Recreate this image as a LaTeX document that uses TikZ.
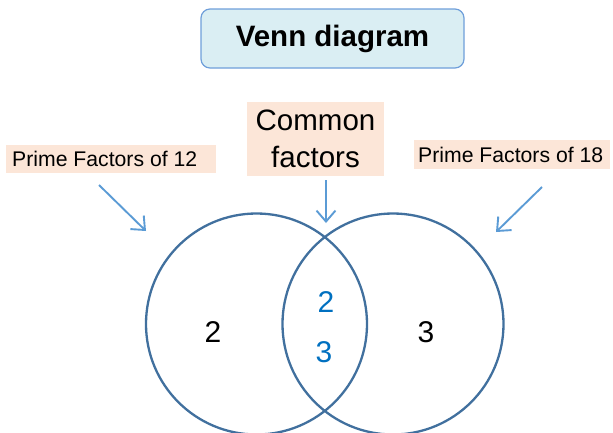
\documentclass[tikz,border=0pt]{standalone}
\usepackage{fontspec}
\setmainfont{Liberation Sans}
\usetikzlibrary{arrows.meta}
\definecolor{titlefill}{HTML}{DAEEF3}
\definecolor{titleline}{HTML}{6F9FDA}
\definecolor{tagfill}{HTML}{FCE6D8}
\definecolor{ringcol}{HTML}{41709E}
\definecolor{pointer}{HTML}{5B9BD5}
\definecolor{shared}{HTML}{0070C0}
\tikzset{
  titlebox/.style={draw=titleline, line width=1.2pt, fill=titlefill, rounded corners=9pt,
    minimum width=263pt, minimum height=59pt, inner sep=0pt,
    font=\fontsize{29.5}{34}\selectfont\bfseries},
  tagbox/.style={fill=tagfill, inner sep=0pt},
  tagtext/.style={anchor=west, inner sep=0pt, font=\fontsize{21.2}{25}\selectfont},
  ring/.style={circle, draw=ringcol, line width=2.3pt, minimum size=221pt, inner sep=0pt},
  digit/.style={font=\fontsize{30}{34}\selectfont},
  pointerarrow/.style={draw=pointer, line width=1.9pt,
    -{Straight Barb[length=11pt, width=19pt, line width=1.9pt]}},
}
\begin{document}
\begin{tikzpicture}[x=1pt, y=-1pt]
  \useasboundingbox (0,0) rectangle (613,432);
  \clip (0,0) rectangle (613,432);

  % heading
  \node[titlebox] (title) at (332.5,38.5) {Venn diagram};

  % labels above the sets
  \node[tagbox, minimum width=210pt, minimum height=28pt] (lab12) at (111,159) {};
  \node[tagtext] (txt12) at (12,159) {Prime Factors of 12};
  \node[tagbox, minimum width=196pt, minimum height=29pt] (lab18) at (512,154.5) {};
  \node[tagtext] (txt18) at (418,154.5) {Prime Factors of 18};
  \node[tagbox, minimum width=137pt, minimum height=74pt, align=center,
        font=\fontsize{29.5}{37}\selectfont] (common) at (315.5,139) {Common\\factors};

  % the two sets
  \node[ring] (setA) at (256.5,324) {};
  \node[ring] (setB) at (393,324) {};

  % elements
  \node[digit] (a2) at (213,332) {2};
  \node[digit] (b3) at (426,332) {3};
  \node[digit, text=shared] (c2) at (326,302) {2};
  \node[digit, text=shared] (c3) at (324,352) {3};

  % pointer arrows
  \coordinate (p12s) at (99,185);
  \coordinate (p12e) at (146,231);
  \coordinate (p18s) at (542,187);
  \coordinate (p18e) at (496,232);
  \coordinate (pcs) at (326,180);
  \coordinate (pce) at (326,223);
  \draw[pointerarrow] (p12s) -- (p12e);
  \draw[pointerarrow] (p18s) -- (p18e);
  \draw[pointerarrow] (pcs) -- (pce);
\end{tikzpicture}
\end{document}
